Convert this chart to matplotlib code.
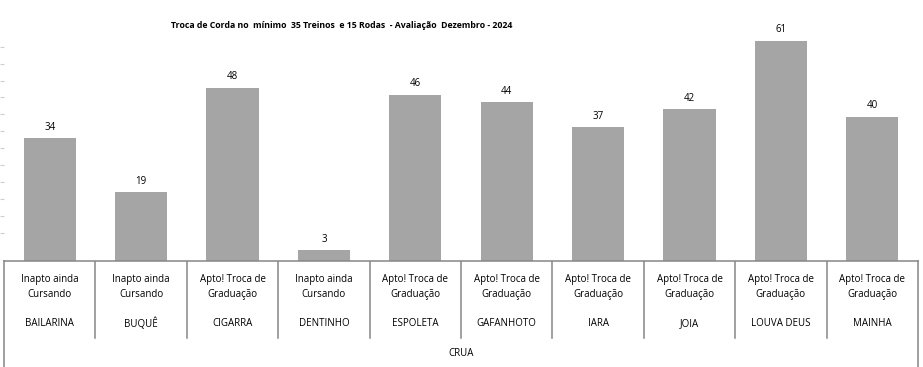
import numpy as np
import matplotlib.pyplot as plt

names = ['BAILARINA', 'BUQUÊ', 'CIGARRA', 'DENTINHO', 'ESPOLETA', 'GAFANHOTO',
         'IARA', 'JOIA', 'LOUVA DEUS', 'MAINHA']
status = ['Inapto ainda\nCursando', 'Inapto ainda\nCursando', 'Apto! Troca de\nGraduação',
          'Inapto ainda\nCursando', 'Apto! Troca de\nGraduação', 'Apto! Troca de\nGraduação',
          'Apto! Troca de\nGraduação', 'Apto! Troca de\nGraduação', 'Apto! Troca de\nGraduação',
          'Apto! Troca de\nGraduação']
values = [34, 19, 48, 3, 46, 44, 37, 42, 61, 40]
group = 'CRUA'
title = 'Troca de Corda no  mínimo  35 Treinos  e 15 Rodas  - Avaliação  Dezembro - 2024'

plt.rcParams['font.family'] = ['Open Sans', 'DejaVu Sans']
W, H = 923, 367
fig = plt.figure(figsize=(W / 100, H / 100), dpi=100)

x0, x1 = 4, 918
base, top = 261, 30
ax = fig.add_axes([x0 / W, (H - base) / H, (x1 - x0) / W, (base - top) / H])
n = len(values)
x = np.arange(n)
ax.bar(x, values, width=0.57, color='#a5a5a5')
for xi, v in zip(x, values):
    ax.annotate(str(v), (xi, v), xytext=(0, 4), textcoords='offset points',
                ha='center', va='bottom', fontsize=7, color='#000000')
ax.set_xlim(-0.5, n - 0.5)
ax.set_ylim(0, 64)
for s in ['top', 'right', 'bottom', 'left']:
    ax.spines[s].set_visible(False)
ax.set_xticks([])
ax.set_yticks(np.arange(7.7, 62, 4.7))
ax.set_yticklabels([])
ax.tick_params(axis='y', length=3, color='#c8d0e0', direction='out', pad=0)

# category table below
tb = fig.add_axes([x0 / W, 0, (x1 - x0) / W, (H - base) / H])
tb.set_xlim(-0.5, n - 0.5)
tb.set_ylim(H, base)
tb.axis('off')
lc = '#868686'
tb.plot([-0.5, n - 0.5], [base, base], color=lc, lw=1.1, clip_on=False)
tb.plot([-0.5, -0.5], [base, H], color=lc, lw=1.1, clip_on=False)
tb.plot([n - 0.5, n - 0.5], [base, H], color=lc, lw=1.1, clip_on=False)
for i in range(1, n):
    tb.plot([i - 0.5, i - 0.5], [base, 338], color=lc, lw=1.1)
for xi, st, nm in zip(x, status, names):
    tb.text(xi, 287, st, ha='center', va='center', fontsize=7, color='#000000',
            linespacing=1.45)
    tb.text(xi, 324, nm, ha='center', va='center', fontsize=7, color='#000000')
tb.text((n - 1) / 2, 354, group, ha='center', va='center', fontsize=7, color='#000000')

fig.text(342 / W, 1 - 26 / H, title, ha='center', va='center', fontsize=6.3,
         fontweight='bold', color='#000000')

fig.savefig('out.png', dpi=100)
